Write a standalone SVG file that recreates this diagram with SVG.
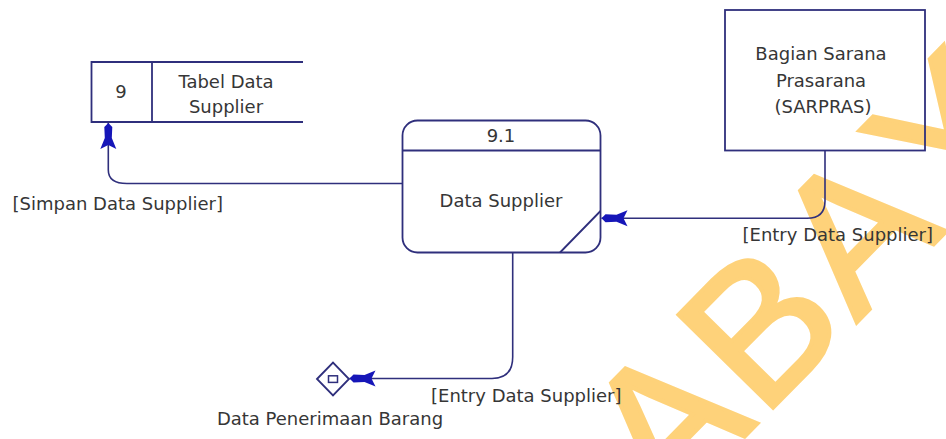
<svg xmlns="http://www.w3.org/2000/svg" width="946" height="439" viewBox="0 0 946 439">
<style>
.ln{fill:none;stroke:#2f2f7c;stroke-width:1.6}
.nd{fill:none;stroke:#2f2f7c;stroke-width:1.8}
.t{font-family:"DejaVu Sans",Verdana,sans-serif;font-size:18px;fill:#363636}
.c{text-anchor:middle}
.wm{font-family:"Liberation Sans",Arial,sans-serif;font-size:193px;font-kerning:none;letter-spacing:6px;fill:#fed27a;stroke:#fed27a;stroke-width:4}
</style>
<defs>
<marker id="arr" markerUnits="userSpaceOnUse" markerWidth="32" markerHeight="20" viewBox="-30 -10 32 20" refX="0" refY="0" orient="auto">
<path d="M0,0 L-4,-4 L-15,-3.5 L-26,-8 L-22,0 L-26,8 L-15,3.5 L-4,4 Z" fill="#1616b8"/>
</marker>
</defs>
<rect x="0" y="0" width="946" height="439" fill="#ffffff"/>
<g id="watermark">
<text class="wm" transform="translate(667.6,515) rotate(-45.5)">ABAY</text>
</g>
<g id="store9">
<path class="nd" d="M303,62 H91.5 V122 H303 M152,62 V122"/>
<text class="t c" x="121" y="98">9</text>
<text class="t c" x="226" y="88">Tabel Data</text>
<text class="t c" x="226" y="113">Supplier</text>
</g>
<g id="process91">
<rect class="nd" x="402.5" y="120.5" width="198" height="132" rx="15" ry="15"/>
<path class="nd" d="M402.5,150.5 H600.5 M560,252.5 L600.5,211"/>
<text class="t c" x="501" y="141.5">9.1</text>
<text class="t c" x="501" y="206.5">Data Supplier</text>
</g>
<g id="sarpras">
<rect class="nd" x="725" y="10" width="200" height="140.5"/>
<text class="t c" x="821" y="60">Bagian Sarana</text>
<text class="t c" x="821" y="86.5">Prasarana</text>
<text class="t c" x="823" y="113">(SARPRAS)</text>
</g>
<g id="dataPenerimaan">
<path class="nd" d="M317,379 L333,362.5 L349,379 L333,395.5 Z"/>
<rect x="328.5" y="375.8" width="9" height="6.6" fill="none" stroke="#2f2f7c" stroke-width="1.5"/>
<text class="t c" x="330" y="425">Data Penerimaan Barang</text>
</g>
<g id="connectors">
<path class="ln" d="M402.5,183.5 L127,183.5 Q108.3,183.5 108.3,170 L108.3,123" marker-end="url(#arr)"/>
<path class="ln" d="M825,150.5 L825,201 Q825,218.3 807,218.3 L601.5,218.3" marker-end="url(#arr)"/>
<path class="ln" d="M512.7,252.5 L512.7,357 Q512.7,378.5 492,378.5 L349.5,378.5" marker-end="url(#arr)"/>
<text class="t" x="12.5" y="210">[Simpan Data Supplier]</text>
<text class="t" x="742.5" y="240.5">[Entry Data Supplier]</text>
<text class="t" x="431" y="402">[Entry Data Supplier]</text>
</g>
</svg>
